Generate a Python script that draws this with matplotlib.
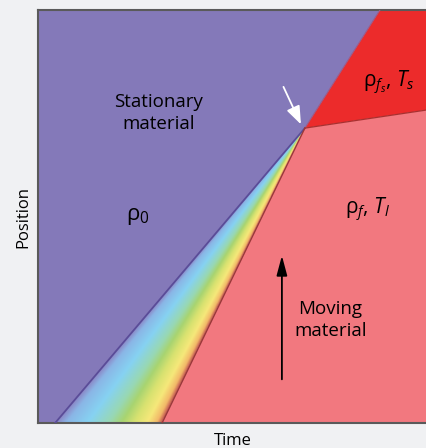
import numpy as np
import matplotlib
matplotlib.use("Agg")
import matplotlib.pyplot as plt
from matplotlib.colors import LinearSegmentedColormap
from matplotlib.patches import Polygon

plt.rcParams["font.family"] = ["Open Sans", "DejaVu Sans"]
plt.rcParams["mathtext.fontset"] = "custom"
plt.rcParams["mathtext.rm"] = "Open Sans"
plt.rcParams["mathtext.it"] = "Open Sans:italic"

# Boundary points (time, position), axes span 0..10
junction = (6.86, 7.14)
front_bottom = (0.44, 0.0)       # stationary / fan boundary at bottom
fan_bottom = (3.19, 0.0)         # fan / moving boundary at bottom
shock_top = (8.79, 10.0)         # stationary / shocked boundary at top
right_edge = (10.0, 7.58)        # shocked / moving boundary at right

fan_colors = ["#8b84c4", "#8ab6e6", "#86d2f2", "#98d8b4", "#a8d470",
              "#d8e270", "#f6e87a", "#f2b868", "#c05050"]
fan_stops = [0.0, 0.1, 0.3, 0.5, 0.62, 0.74, 0.86, 0.95, 1.0]

purple = "#8479b9"
red = "#ec2b2b"
pink = "#f2787f"

fig = plt.figure(figsize=(4.27, 4.48), dpi=100)
fig.patch.set_facecolor("#f0f1f3")
ax = fig.add_axes([38 / 427, 25 / 448, 389 / 427, 413 / 448])
ax.set_xlim(0, 10)
ax.set_ylim(0, 10)

ax.add_patch(Polygon([(0, 0), front_bottom, junction, shock_top, (0, 10)],
                     closed=True, facecolor=purple, edgecolor="none"))
ax.add_patch(Polygon([junction, shock_top, (10, 10), right_edge],
                     closed=True, facecolor=red, edgecolor="none"))
ax.add_patch(Polygon([fan_bottom, (10, 0), right_edge, junction],
                     closed=True, facecolor=pink, edgecolor="none"))

# rainbow fan between the two lines meeting at the junction
cmap = LinearSegmentedColormap.from_list("fan", list(zip(fan_stops, fan_colors)))
xs = np.linspace(0, 10, 800)
ys = np.linspace(0, 10, 800)
X, Y = np.meshgrid(xs, ys)
frac = Y / junction[1]
xb = front_bottom[0] + (junction[0] - front_bottom[0]) * frac
xr = fan_bottom[0] + (junction[0] - fan_bottom[0]) * frac
t = (X - xb) / np.maximum(xr - xb, 1e-6)
img = cmap(np.clip(t, 0, 1))
img[..., 3] = np.where((t >= 0) & (t <= 1) & (Y <= junction[1]), 1.0, 0.0)
ax.imshow(img, extent=(0, 10, 0, 10), origin="lower", aspect="auto",
          interpolation="bilinear", zorder=2)

ax.plot([front_bottom[0], junction[0]], [front_bottom[1], junction[1]],
        color="#5a4c98", lw=1.3, zorder=3)
ax.plot([junction[0], shock_top[0]], [junction[1], shock_top[1]],
        color="#9a5a8a", lw=0.8, zorder=3)
ax.plot([fan_bottom[0], junction[0]], [fan_bottom[1], junction[1]],
        color="#9a3838", lw=1.0, zorder=3)
ax.plot([junction[0], right_edge[0]], [junction[1], right_edge[1]],
        color="#a83030", lw=0.9, zorder=3)

# arrows
ax.annotate("", xy=(6.79, 7.17), xytext=(6.28, 8.2),
            arrowprops=dict(arrowstyle="-|>,head_length=1.1,head_width=0.42",
                            color="white", lw=1.3), zorder=4)
ax.annotate("", xy=(6.27, 4.12), xytext=(6.27, 0.99),
            arrowprops=dict(arrowstyle="-|>,head_length=1.2,head_width=0.32",
                            color="black", lw=1.3), zorder=4)

fs = 13.5
ax.text(3.11, 7.51, "Stationary\nmaterial", ha="center", va="center",
        fontsize=fs, linespacing=1.25, zorder=5)
ax.text(2.57, 4.99, "ρ$_0$", ha="center", va="center", fontsize=fs + 2.5, zorder=5)
ax.text(9.02, 8.24, "ρ$_{f_s}$, $T_s$", ha="center", va="center",
        fontsize=fs + 1.5, zorder=5)
ax.text(8.48, 5.16, "ρ$_{f}$, $T_l$", ha="center", va="center",
        fontsize=fs + 1.5, zorder=5)
ax.text(7.51, 2.49, "Moving\nmaterial", ha="center", va="center",
        fontsize=fs, linespacing=1.25, zorder=5)

ax.set_xticks([])
ax.set_yticks([])
ax.set_xlabel("Time", fontsize=12, labelpad=7)
ax.set_ylabel("Position", fontsize=12, labelpad=5)
for side in ["left", "bottom", "top"]:
    ax.spines[side].set_color("#5a5a5a")
    ax.spines[side].set_linewidth(1.5)
ax.spines["right"].set_visible(False)

fig.savefig("out.png", dpi=100, facecolor=fig.get_facecolor())
